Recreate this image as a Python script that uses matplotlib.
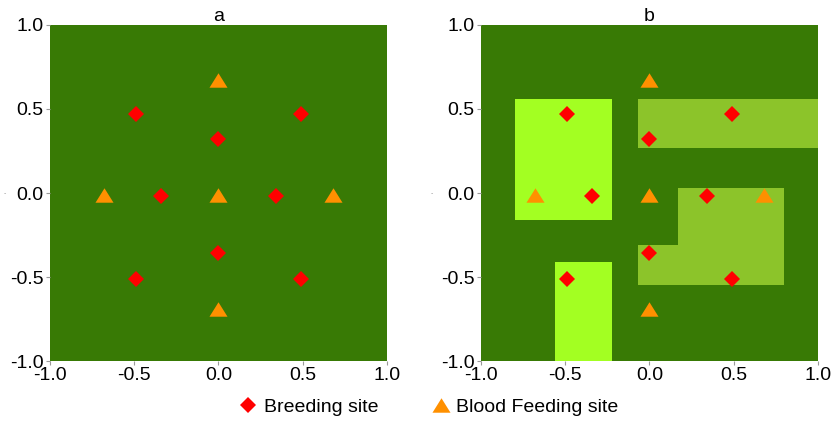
import matplotlib.pyplot as plt
from matplotlib.patches import Polygon

plt.rcParams['font.family'] = ['Liberation Sans', 'DejaVu Sans']

# site coordinates, same in both landscapes
breed_x = [-0.49, 0.49, 0.0, -0.34, 0.34, 0.0, -0.49, 0.49]
breed_y = [0.47, 0.47, 0.32, -0.02, -0.02, -0.36, -0.51, -0.51]
feed_x = [0.0, -0.68, 0.0, 0.68, 0.0]
feed_y = [0.67, -0.01, -0.01, -0.01, -0.69]

# habitat patches for landscape b (polygon corners)
bright_patches = [
    [(-0.80, -0.16), (-0.22, -0.16), (-0.22, 0.56), (-0.80, 0.56)],
    [(-0.56, -1.0), (-0.22, -1.0), (-0.22, -0.41), (-0.56, -0.41)],
]
olive_patches = [
    [(-0.07, 0.27), (1.0, 0.27), (1.0, 0.56), (-0.07, 0.56)],
    [(-0.07, -0.55), (0.80, -0.55), (0.80, 0.03), (0.17, 0.03),
     (0.17, -0.31), (-0.07, -0.31)],
]

bg = '#387a05'
bright = '#a3ff22'
olive = '#8cc42a'
red = '#ff0000'
orange = '#ff9000'
tri = [(-1, -0.8), (1, -0.8), (0, 0.8)]
fs = 14

fig = plt.figure(figsize=(8.32, 4.22), dpi=100)
ax_a = fig.add_axes([0.0601, 0.1445, 0.405, 0.7963])
ax_b = fig.add_axes([0.5781, 0.1445, 0.405, 0.7963])

for ax, title in [(ax_a, 'a'), (ax_b, 'b')]:
    ax.set_facecolor(bg)
    ax.set_xlim(-1, 1)
    ax.set_ylim(-1, 1)
    ax.set_xticks([-1, -0.5, 0, 0.5, 1])
    ax.set_yticks([-1, -0.5, 0, 0.5, 1])
    ax.set_xticklabels(['-1.0', '-0.5', '0.0', '0.5', '1.0'])
    ax.set_yticklabels(['-1.0', '-0.5', '0.0', '0.5', '1.0'])
    ax.tick_params(length=3, width=0.8, color='#999999', labelsize=fs,
                   pad=1.5)
    for s in ax.spines.values():
        s.set_visible(False)
    ax.set_title(title, fontsize=fs, pad=2)

for pts in bright_patches:
    ax_b.add_patch(Polygon(pts, closed=True, facecolor=bright, edgecolor='none'))
for pts in olive_patches:
    ax_b.add_patch(Polygon(pts, closed=True, facecolor=olive, edgecolor='none'))

for ax in (ax_a, ax_b):
    hb, = ax.plot(breed_x, breed_y, ls='none', marker='D', ms=8.6,
                  color=red, mew=0, label='Breeding site', zorder=3)
    hf, = ax.plot(feed_x, feed_y, ls='none', marker=tri, ms=13,
                  color=orange, mew=0, label='Blood Feeding site', zorder=3)

fig.text(0.004, 0.542, '-', fontsize=5, color='#999999', va='center')
fig.text(0.518, 0.542, '-', fontsize=5, color='#999999', va='center')

fig.legend(handles=[hb, hf], loc='center', bbox_to_anchor=(0.514, 0.036),
           ncol=2, frameon=False, fontsize=fs, handletextpad=0.2,
           columnspacing=2.6, handlelength=1.2)

fig.savefig('out.png', dpi=100)
